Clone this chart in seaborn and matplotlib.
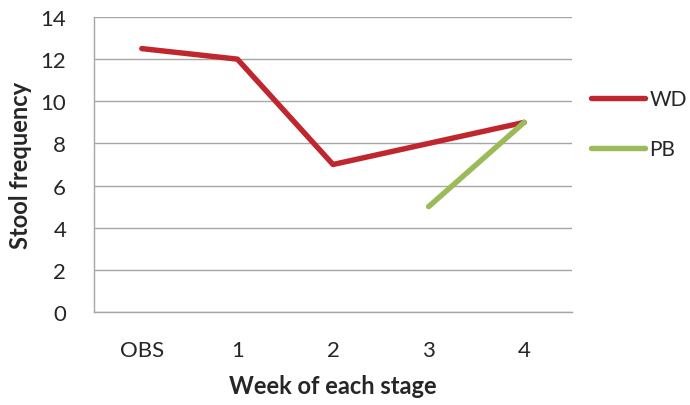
import matplotlib
matplotlib.use("Agg")
import matplotlib.pyplot as plt
import seaborn as sns
import pandas as pd
import numpy as np
from matplotlib.lines import Line2D

weeks = ["OBS", "1", "2", "3", "4"]
wd_values = [12.5, 12, 7, 8, 9]
pb_weeks = ["3", "4"]
pb_values = [5, 9]

df = pd.concat([
    pd.DataFrame({"week": weeks, "freq": wd_values, "group": "WD"}),
    pd.DataFrame({"week": pb_weeks, "freq": pb_values, "group": "PB"}),
], ignore_index=True)
df["pos"] = df["week"].map({w: i for i, w in enumerate(weeks)})

sns.set_style("white")
plt.rcParams["font.family"] = ["Lato", "DejaVu Sans"]

fig = plt.figure(figsize=(6.9, 4.06), dpi=100)
ax = fig.add_axes([94 / 690, 1 - 313 / 406, (572 - 94) / 690, (313 - 18) / 406])

palette = {"WD": "#C0262D", "PB": "#9BBB59"}
lw = 3.9
sns.lineplot(data=df, x="pos", y="freq", hue="group", palette=palette,
             linewidth=lw, ax=ax, legend=False, solid_capstyle="round")

grid_col = "#A6A6A6"
text_col = "#262626"
ax.set_xlim(-0.5, 4.5)
ax.set_ylim(0, 14)
ax.set_yticks(np.arange(0, 15, 2))
ax.yaxis.grid(True, color=grid_col, linewidth=1)
ax.set_axisbelow(True)
ax.set_xticks(range(len(weeks)))
ax.set_xticklabels(weeks)
ax.set_xticks(np.arange(-0.5, 4.6, 1), minor=True)
ax.tick_params(axis="x", which="major", length=0, pad=20, labelsize=16, labelcolor=text_col)
ax.tick_params(axis="x", which="minor", length=6, width=1, color=grid_col, direction="out")
ax.tick_params(axis="y", length=8, width=1, color=grid_col, direction="out", labelsize=16,
               labelcolor=text_col, pad=12)
for s in ["top", "right"]:
    ax.spines[s].set_visible(False)
for s in ["left", "bottom"]:
    ax.spines[s].set_color(grid_col)
    ax.spines[s].set_linewidth(1)

ax.set_xlabel("Week of each stage", fontsize=17, fontweight="bold", color=text_col, labelpad=10)
ax.set_ylabel("Stool frequency", fontsize=17, fontweight="bold", color=text_col, labelpad=6)

handles = [Line2D([], [], color=palette[g], linewidth=lw, solid_capstyle="round") for g in ["WD", "PB"]]
fig.legend(handles, ["WD", "PB"], loc="upper left", bbox_to_anchor=(591 / 690, 1 - 90 / 406),
           frameon=False, borderpad=0, borderaxespad=0, fontsize=15, handlelength=2.6,
           handletextpad=0.2, labelspacing=1.45, labelcolor=text_col)

fig.savefig("out.png", dpi=100)
